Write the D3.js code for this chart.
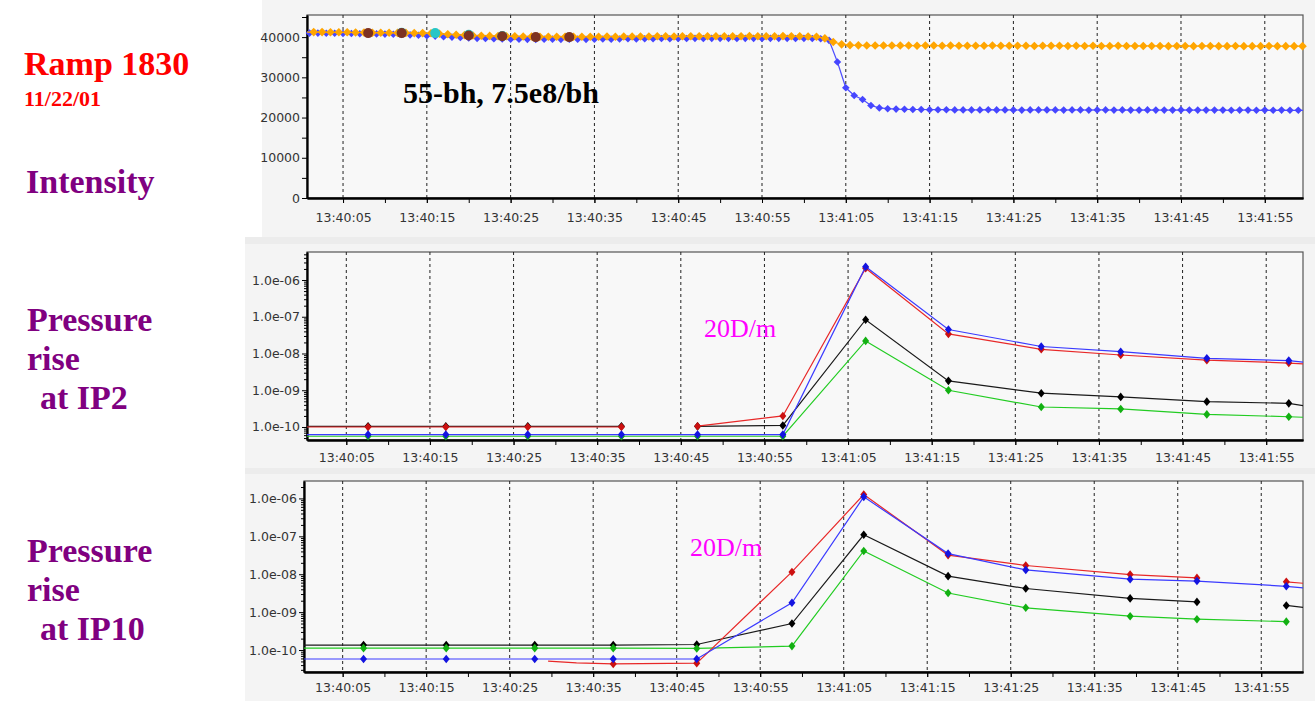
<!DOCTYPE html>
<html>
<head>
<meta charset="utf-8">
<script src="https://cdn.jsdelivr.net/npm/d3@7"></script>
<style>
body { margin: 0; background: #fff; }
svg { display: block; }
.tick text { font-family: "DejaVu Sans", Verdana, sans-serif; font-size: 12.5px; fill: #333; }
.lbl { font-family: "Liberation Serif", "Times New Roman", serif; font-weight: bold; }
</style>
</head>
<body>
<div id="chart"></div>
<script>
var W = 1315, H = 701;

// --- data (time in seconds after 13:40:00) ---
var timeTicks = ["13:40:05", "13:40:15", "13:40:25", "13:40:35", "13:40:45", "13:40:55",
                 "13:41:05", "13:41:15", "13:41:25", "13:41:35", "13:41:45", "13:41:55"];
var intensityTicks = [0, 10000, 20000, 30000, 40000];
var logTicks = [1e-10, 1e-9, 1e-8, 1e-7, 1e-6];
var logTickLabels = ["1.0e-10", "1.0e-09", "1.0e-08", "1.0e-07", "1.0e-06"];

// intensity samples, one per second (blue at whole seconds, orange half a second later)
var beamSecs = d3.range(0, 121);
var beamBlue = [
  41050, 41000, 41000, 40950, 40950, 40900, 40900, 40850, 40800, 40800,
  40750, 40700, 40650, 40550, 40450, 40350, 40250, 40100, 40000, 39900,
  39800, 39700, 39650, 39600, 39550, 39500, 39500, 39450, 39450, 39500,
  39500, 39450, 39500, 39500, 39450, 39500, 39550, 39500, 39550, 39600,
  39550, 39600, 39600, 39650, 39600, 39650, 39650, 39700, 39650, 39700,
  39700, 39700, 39650, 39700, 39700, 39650, 39700, 39700, 39700, 39650,
  39700, 39650, 39600, 39200, 33800, 27400, 25500, 24500, 23000, 22400,
  22200, 22100, 22050, 22000, 22000, 21950, 21950, 21950, 21900, 21900,
  21900, 21900, 21950, 21900, 21900, 21900, 21850, 21900, 21900, 21900,
  21900, 21850, 21900, 21900, 21850, 21900, 21900, 21850, 21900, 21850,
  21850, 21900, 21850, 21850, 21850, 21900, 21850, 21850, 21850, 21850,
  21850, 21800, 21850, 21850, 21800, 21850, 21800, 21850, 21800, 21800,
  21800];
var beamOrange = [
  41250, 41250, 41250, 41200, 41200, 41200, 41150, 41150, 41100, 41100,
  41100, 41050, 41050, 41000, 41000, 40950, 40850, 40700, 40600, 40500,
  40400, 40350, 40300, 40250, 40200, 40200, 40150, 40150, 40100, 40100,
  40100, 40100, 40100, 40100, 40100, 40100, 40150, 40100, 40150, 40150,
  40150, 40150, 40200, 40200, 40150, 40200, 40200, 40200, 40200, 40200,
  40200, 40200, 40200, 40250, 40200, 40200, 40200, 40250, 40200, 40200,
  40150, 40100, 39700, 38800, 38200, 38000, 37950, 37900, 37900, 37900,
  37900, 37900, 37900, 37850, 37900, 37900, 37850, 37900, 37850, 37850,
  37850, 37850, 37900, 37850, 37850, 37850, 37850, 37800, 37850, 37850,
  37850, 37800, 37850, 37800, 37850, 37800, 37800, 37850, 37800, 37800,
  37800, 37800, 37800, 37750, 37800, 37800, 37750, 37800, 37800, 37750,
  37750, 37800, 37750, 37750, 37750, 37800, 37750, 37750, 37750, 37750,
  37750];
var bunchBrownSecs = [8, 12, 20, 24, 28, 32];
var bunchBrown = [41000, 41000, 40400, 40200, 40000, 40000];
var bunchCyanSecs = [12, 16, 20, 24];
var bunchCyan = [41100, 41000, 40600, 40300];

// pressure at IP2: [seconds, value, marker?]
var ip2Black = [[-1, 1.04e-10], [7.6, 1.04e-10], [16.9, 1.04e-10], [26.7, 1.04e-10], [37.9, 1.04e-10], [42, null],
  [47.0, 1.04e-10], [57.2, 1.1e-10], [67.1, 8.3e-8], [77.0, 1.8e-9], [88.1, 8.3e-10], [97.6, 6.6e-10],
  [107.9, 4.9e-10], [117.7, 4.4e-10], [122, 3.1e-10]];
var ip2Green = [[-1, 5.6e-11], [7.6, 5.6e-11], [16.9, 5.6e-11], [26.7, 5.6e-11], [37.9, 5.6e-11], [47.0, 5.6e-11],
  [57.2, 5.6e-11], [67.1, 2.2e-8], [77.0, 1.0e-9], [88.1, 3.5e-10], [97.6, 3.1e-10], [107.9, 2.2e-10],
  [117.7, 1.9e-10], [122, 1.75e-10]];
var ip2Red = [[-1, 1.0e-10], [7.6, 1.0e-10], [16.9, 1.0e-10], [26.7, 1.0e-10], [37.9, 1.0e-10], [42, null],
  [47.0, 1.05e-10], [57.2, 2.0e-10], [67.1, 2.1e-6], [77.0, 3.4e-8], [88.1, 1.3e-8], [97.6, 9.1e-9],
  [107.9, 6.6e-9], [117.7, 5.5e-9], [122, 4.8e-9]];
var ip2Blue = [[-1, 6.2e-11], [7.6, 6.2e-11], [16.9, 6.2e-11], [26.7, 6.2e-11], [37.9, 6.2e-11], [47.0, 6.2e-11],
  [57.2, 6.2e-11], [67.1, 2.3e-6], [77.0, 4.5e-8], [88.1, 1.55e-8], [97.6, 1.12e-8], [107.9, 7.4e-9],
  [117.7, 6.4e-9], [122, 5.0e-9]];

// pressure at IP10
var ip10Black = [[-1, 1.35e-10], [7.5, 1.35e-10], [17.4, 1.35e-10], [28.0, 1.35e-10], [37.4, 1.35e-10],
  [47.4, 1.4e-10], [58.8, 5.0e-10], [67.4, 1.1e-7], [77.5, 8.9e-9], [86.8, 4.2e-9], [99.3, 2.3e-9],
  [107.3, 1.86e-9], [112, null], [118.0, 1.5e-9], [122, 1.2e-9]];
var ip10Green = [[-1, 1.12e-10], [7.5, 1.12e-10], [17.4, 1.12e-10], [28.0, 1.12e-10], [37.4, 1.12e-10],
  [47.4, 1.1e-10], [58.8, 1.27e-10], [67.4, 4.1e-8], [77.5, 3.2e-9], [86.8, 1.3e-9], [99.3, 7.8e-10],
  [107.3, 6.5e-10], [118.0, 5.6e-10]];
var ip10Red = [[29.6, 5.1e-11, 0], [33.0, 4.6e-11, 0], [37.4, 4.3e-11], [47.4, 4.5e-11], [58.8, 1.15e-8],
  [67.4, 1.27e-6], [77.5, 3.2e-8], [86.8, 1.7e-8], [99.3, 9.8e-9], [107.3, 8.0e-9], [112, null],
  [118.0, 6.3e-9], [122, 5.3e-9]];
var ip10Blue = [[-1, 5.8e-11], [7.5, 5.8e-11], [17.4, 5.8e-11], [28.0, 5.8e-11], [37.4, 5.8e-11],
  [47.4, 5.8e-11], [58.8, 1.77e-9], [67.4, 1.1e-6], [77.5, 3.5e-8], [86.8, 1.3e-8], [99.3, 7.4e-9],
  [107.3, 6.6e-9], [118.0, 4.8e-9], [122, 4.0e-9]];

// --- helpers ---
function toSecs(s) { var p = s.split(":"); return (+p[1] - 40) * 60 + (+p[2]); }
var majorSecs = timeTicks.map(toSecs);

function diamond(rx, ry) { return "M0," + (-ry) + "L" + rx + ",0L0," + ry + "L" + (-rx) + ",0Z"; }
function circle(r) { return d3.symbol().type(d3.symbolCircle).size(Math.PI * r * r)(); }

var svg = d3.select("#chart").append("svg").attr("width", W).attr("height", H);

// panel backgrounds
svg.append("rect").attr("x", 262).attr("y", 0).attr("width", W - 262).attr("height", 237).attr("fill", "#f4f4f4");
svg.append("rect").attr("x", 245).attr("y", 237).attr("width", W - 245).attr("height", 7).attr("fill", "#ececec");
svg.append("rect").attr("x", 245).attr("y", 244).attr("width", W - 245).attr("height", 224).attr("fill", "#f4f4f4");
svg.append("rect").attr("x", 245).attr("y", 468).attr("width", W - 245).attr("height", 6).attr("fill", "#ececec");
svg.append("rect").attr("x", 245).attr("y", 474).attr("width", W - 245).attr("height", 227).attr("fill", "#f4f4f4");

function panel(p) {
  var g = svg.append("g");
  var x = d3.scaleLinear().domain(p.xDomain).range([p.left, p.right]);
  var y = p.log ? d3.scaleLog().domain(p.yDomain).range([p.bottom, p.top])
                : d3.scaleLinear().domain(p.yDomain).range([p.bottom, p.top]);

  g.append("rect").attr("x", p.left).attr("y", p.top)
    .attr("width", p.right - p.left).attr("height", p.bottom - p.top)
    .attr("fill", "#f8f8f8").attr("stroke", "#555").attr("stroke-width", 1.2);

  svg.append("clipPath").attr("id", "clip-" + p.name).append("rect")
    .attr("x", p.left).attr("y", p.top).attr("width", p.right - p.left).attr("height", p.bottom - p.top);

  // dashed vertical grid
  g.selectAll(".grid").data(majorSecs).enter().append("line")
    .attr("x1", function(d){ return x(d); }).attr("x2", function(d){ return x(d); })
    .attr("y1", p.top).attr("y2", p.bottom)
    .attr("stroke", "#222").attr("stroke-width", 1).attr("stroke-dasharray", "3,3");

  var minorX = d3.range(5, 125, 5).filter(function(d){ return d > p.xDomain[0] && d < p.xDomain[1]; });
  g.append("g").attr("transform", "translate(0," + p.bottom + ")")
    .call(d3.axisBottom(x).tickValues(minorX).tickFormat("").tickSize(5).tickSizeOuter(0));
  g.append("g").attr("transform", "translate(0," + p.bottom + ")")
    .call(d3.axisBottom(x).tickValues(majorSecs)
      .tickFormat(function(d){ return timeTicks[majorSecs.indexOf(d)]; })
      .tickSize(5).tickPadding(p.xPad).tickSizeOuter(0));

  var yAxis, minorY;
  if (p.log) {
    minorY = [];
    for (var e = -11; e <= -6; e++) for (var k = 2; k <= 9; k++) {
      var v = k * Math.pow(10, e);
      if (v > p.yDomain[0] && v < p.yDomain[1]) minorY.push(v);
    }
    yAxis = d3.axisLeft(y).tickValues(logTicks)
      .tickFormat(function(d){ return logTickLabels[logTicks.indexOf(d)]; });
  } else {
    minorY = d3.range(5000, 46000, 10000);
    yAxis = d3.axisLeft(y).tickValues(intensityTicks).tickFormat(d3.format("d"));
  }
  g.append("g").attr("transform", "translate(" + p.left + ",0)")
    .call(d3.axisLeft(y).tickValues(minorY).tickFormat("").tickSize(p.log ? 3 : 5).tickSizeOuter(0));
  g.append("g").attr("transform", "translate(" + p.left + ",0)")
    .call(yAxis.tickSize(5).tickPadding(2).tickSizeOuter(0));

  g.selectAll(".domain").attr("stroke", "#000").attr("stroke-width", 1.8);
  g.selectAll(".tick line").attr("stroke", "#000");

  return { g: g, x: x, y: y, clip: "clip-" + p.name };
}

function series(pn, data, lineColor, markColor, shape, width) {
  var line = d3.line()
    .defined(function(d){ return d[1] != null; })
    .x(function(d){ return pn.x(d[0]); })
    .y(function(d){ return pn.y(d[1]); });
  pn.g.append("path").datum(data).attr("d", line)
    .attr("fill", "none").attr("stroke", lineColor).attr("stroke-width", width)
    .attr("clip-path", "url(#" + pn.clip + ")");
  var dom = pn.x.domain();
  pn.g.selectAll(null)
    .data(data.filter(function(d){ return d[1] != null && d[2] !== 0 && d[0] > dom[0] && d[0] < dom[1]; }))
    .enter().append("path")
    .attr("d", shape)
    .attr("transform", function(d){ return "translate(" + pn.x(d[0]) + "," + pn.y(d[1]) + ")"; })
    .attr("fill", markColor);
}

// --- intensity panel ---
var intP = panel({ name: "int", left: 307, right: 1303, top: 15, bottom: 198,
  xDomain: [0.7, 119.56], yDomain: [0, 45500], log: false, xPad: 10 });
var bluePts = beamSecs.map(function(s, i){ return [s, beamBlue[i]]; });
var orangePts = beamSecs.map(function(s, i){ return [s + 0.5, beamOrange[i]]; });
series(intP, bluePts, "#4d4dff", "#4646ff", diamond(3.8, 3.8), 1.2);
series(intP, orangePts, "#ffa500", "#ffa500", diamond(4.3, 4.3), 1.2);
series(intP, bunchCyanSecs.map(function(s, i){ return [s, bunchCyan[i]]; }), "none", "#26c6c6", circle(5), 0);
series(intP, bunchBrownSecs.map(function(s, i){ return [s, bunchBrown[i]]; }), "none", "#7d3222", circle(5), 0);

// --- IP2 panel ---
var ip2P = panel({ name: "ip2", left: 307, right: 1303, top: 252, bottom: 440,
  xDomain: [0.3, 119.4], yDomain: [Math.pow(10, -10.354), Math.pow(10, -5.238)], log: true, xPad: 8 });
series(ip2P, ip2Black, "#1a1a1a", "#000", diamond(3.5, 4.3), 1.2);
series(ip2P, ip2Green, "#22cc22", "#12b012", diamond(3.5, 4.3), 1.2);
series(ip2P, ip2Red, "#e82828", "#cc1010", diamond(3.5, 4.3), 1.2);
series(ip2P, ip2Blue, "#3a3aff", "#1414e0", diamond(3.5, 4.3), 1.2);

// --- IP10 panel ---
var ip10P = panel({ name: "ip10", left: 304, right: 1303, top: 481, bottom: 672,
  xDomain: [0.37, 120.0], yDomain: [Math.pow(10, -10.58), Math.pow(10, -5.54)], log: true, xPad: 6 });
series(ip10P, ip10Black, "#1a1a1a", "#000", diamond(3.5, 4.3), 1.2);
series(ip10P, ip10Green, "#22cc22", "#12b012", diamond(3.5, 4.3), 1.2);
series(ip10P, ip10Red, "#e82828", "#cc1010", diamond(3.5, 4.3), 1.2);
series(ip10P, ip10Blue, "#3a3aff", "#1414e0", diamond(3.5, 4.3), 1.2);

// --- titles and notes ---
function label(txt, x, y, size, color, bold) {
  svg.append("text").attr("class", "lbl").attr("x", x).attr("y", y)
    .style("font-size", size + "px").style("font-weight", bold ? "bold" : "normal")
    .attr("fill", color).text(txt);
}
label("Ramp 1830", 24, 75, 34, "#ff0000", true);
label("11/22/01", 24, 106, 22, "#ff0000", true);
label("Intensity", 26, 193, 34, "#800080", true);
label("Pressure", 27, 331, 34, "#800080", true);
label("rise", 27, 370, 34, "#800080", true);
label("at IP2", 40, 409, 34, "#800080", true);
label("Pressure", 27, 562, 34, "#800080", true);
label("rise", 27, 601, 34, "#800080", true);
label("at IP10", 40, 640, 34, "#800080", true);
label("55-bh, 7.5e8/bh", 403, 103, 30, "#000", true);
label("20D/m", 704, 337, 26, "#ff00ff", false);
label("20D/m", 690, 556, 26, "#ff00ff", false);
</script>
</body>
</html>
